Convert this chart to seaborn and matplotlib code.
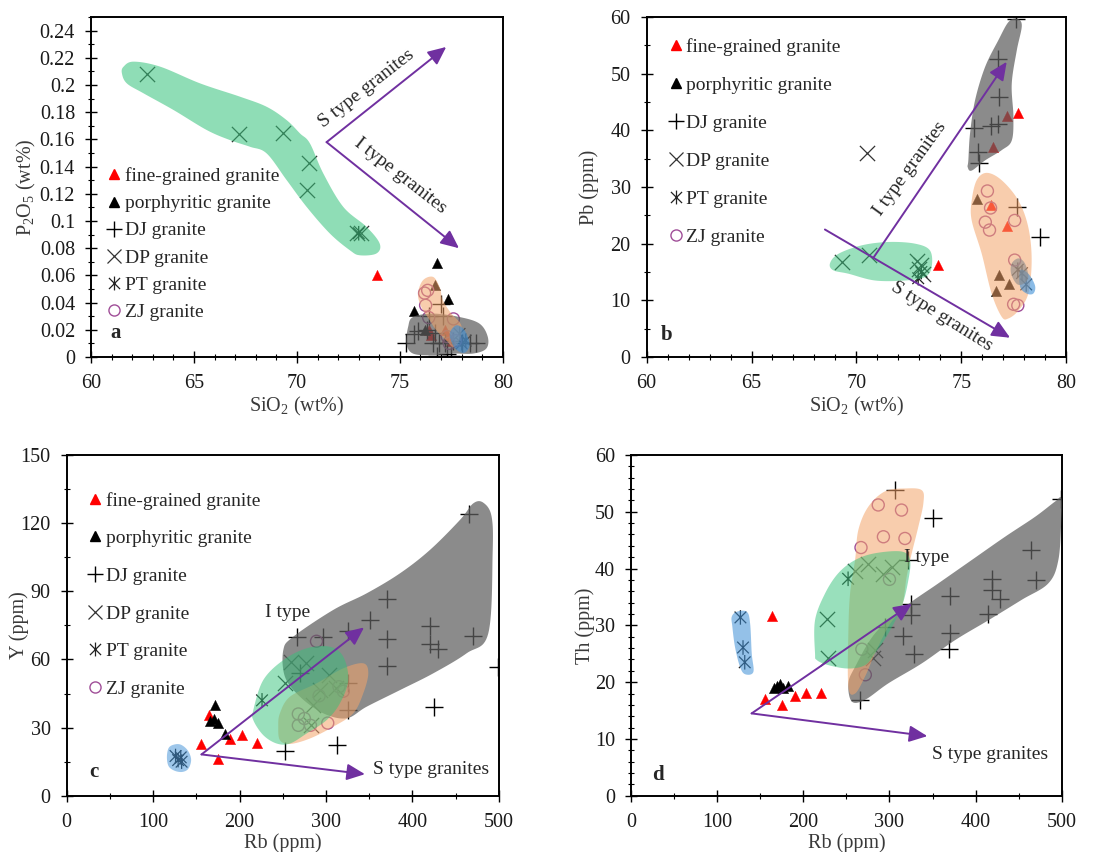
import numpy as np
import matplotlib
matplotlib.use('Agg')
import matplotlib.pyplot as plt
import seaborn as sns
from matplotlib.path import Path
from matplotlib.patches import Polygon
from matplotlib.lines import Line2D
from matplotlib.ticker import MultipleLocator, FuncFormatter

sns.set_theme(style='ticks')
plt.rcParams['font.family'] = ['Liberation Serif', 'DejaVu Serif']
plt.rcParams['mathtext.fontset'] = 'custom'
plt.rcParams['mathtext.rm'] = 'Liberation Serif'
plt.rcParams['mathtext.it'] = 'Liberation Serif:italic'

# ---------------- data : panel a (SiO2 vs P2O5) ----------------
fine_a_x = [73.9, 76.4, 76.5, 77.2, 77.3, 77.5]
fine_a_y = [0.060, 0.020, 0.016, 0.020, 0.015, 0.012]
por_a_x = [76.8, 76.7, 77.35, 75.7, 76.2]
por_a_y = [0.069, 0.053, 0.043, 0.034, 0.020]
dj_a_x = [75.3, 75.7, 75.9, 76.3, 76.4, 76.6, 76.7, 76.8, 76.9, 77.0, 77.1, 77.2, 77.3, 77.5, 77.6, 78.0, 78.4, 78.7]
dj_a_y = [0.010, 0.017, 0.019, 0.020, 0.030, 0.010, 0.018, 0.001, 0.010, 0.039, 0.030, 0.010, 0.002, 0.001, 0.012, 0.010, 0.010, 0.010]
dp_a_x = [62.7, 67.2, 69.3, 70.6, 70.5, 72.9, 73.1]
dp_a_y = [0.208, 0.164, 0.165, 0.143, 0.123, 0.091, 0.091]
pt_a_x = [73.0, 77.9, 78.0, 78.2]
pt_a_y = [0.091, 0.017, 0.010, 0.012]
zj_a_x = [76.2, 76.35, 76.25, 76.4, 77.6, 77.3, 77.7, 77.4]
zj_a_y = [0.047, 0.049, 0.038, 0.029, 0.028, 0.015, 0.012, 0.010]

# field outlines (data units)
green_a_x = [61.58, 62.07, 63.36, 65.30, 67.24, 68.53, 69.50, 70.15, 70.63, 71.28, 72.25, 73.38, 74.02, 73.86, 73.05, 72.57, 71.60, 70.47, 69.50, 68.53, 67.72, 66.75, 65.62, 64.01, 62.55, 61.74, 61.50]
green_a_y = [0.2135, 0.2172, 0.2135, 0.2012, 0.1914, 0.1840, 0.1742, 0.1644, 0.1571, 0.1350, 0.1104, 0.0957, 0.0834, 0.0761, 0.0748, 0.0785, 0.0908, 0.1104, 0.1301, 0.1497, 0.1546, 0.1595, 0.1669, 0.1816, 0.1939, 0.2012, 0.2086]
gray_a_x = [75.40, 75.64, 76.61, 77.90, 78.87, 79.27, 79.19, 78.55, 77.58, 76.61, 75.64, 75.32]
gray_a_y = [0.0221, 0.0294, 0.0319, 0.0294, 0.0245, 0.0147, 0.0061, 0.0025, 0.0025, 0.0012, 0.0025, 0.0098]
orange_a_x = [75.88, 76.12, 76.61, 76.93, 77.09, 77.50, 77.98, 77.90, 77.58, 77.25, 76.77, 76.45, 76.04]
orange_a_y = [0.0466, 0.0564, 0.0589, 0.0515, 0.0417, 0.0319, 0.0233, 0.0123, 0.0074, 0.0123, 0.0196, 0.0270, 0.0368]
blue_a_x = [77.42, 77.74, 78.14, 78.38, 78.22, 77.90, 77.58]
blue_a_y = [0.0172, 0.0233, 0.0196, 0.0098, 0.0037, 0.0037, 0.0086]

# ---------------- data : panel b (SiO2 vs Pb) ----------------
fine_b_x = [73.9, 76.4, 76.5, 77.2, 77.7, 77.2]
fine_b_y = [16.2, 26.8, 37.1, 42.5, 43.1, 23.2]
por_b_x = [75.75, 76.8, 76.65, 77.3]
por_b_y = [27.8, 14.4, 11.6, 12.9]
dj_b_x = [77.6, 76.75, 76.8, 75.6, 76.4, 76.75, 75.8, 75.85, 77.65, 78.75]
dj_b_y = [59.6, 52.6, 45.8, 40.4, 40.8, 41.2, 36.1, 34.2, 26.5, 21.2]
dp_b_x = [69.3, 70.5, 70.6, 72.9, 73.0, 73.1, 73.2]
dp_b_y = [16.8, 36.0, 18.0, 17.0, 15.5, 16.2, 14.6]
pt_b_x = [72.95, 73.1, 77.7, 77.9, 78.1]
pt_b_y = [13.9, 15.0, 15.4, 14.8, 12.8]
zj_b_x = [76.25, 76.4, 76.15, 76.35, 77.55, 77.55, 77.5, 77.7]
zj_b_y = [29.3, 26.3, 23.8, 22.4, 24.1, 17.1, 9.3, 9.1]

gray_b_x = [75.34, 75.42, 75.66, 76.14, 76.77, 77.25, 77.65, 77.89, 77.65, 77.41, 77.49, 77.41, 76.93, 76.14, 75.50, 75.31]
gray_b_y = [34.7, 39.4, 45.3, 51.2, 55.9, 59.1, 59.7, 58.5, 54.1, 48.2, 42.4, 38.2, 36.5, 34.7, 32.9, 33.5]
orange_b_x = [75.50, 75.74, 76.22, 76.93, 77.73, 78.20, 78.36, 78.20, 77.73, 77.25, 76.93, 76.45, 75.98, 75.50]
orange_b_y = [27.6, 31.2, 32.5, 31.2, 27.6, 22.9, 17.1, 11.2, 8.2, 6.8, 7.1, 11.2, 18.2, 24.1]
green_b_x = [68.74, 69.14, 70.25, 71.53, 72.80, 73.51, 73.59, 73.27, 72.32, 70.89, 69.62, 68.90]
green_b_y = [16.5, 18.2, 19.7, 20.3, 20.0, 18.8, 15.9, 14.1, 13.5, 13.5, 14.7, 15.3]
gray2_b_x = [77.41, 77.73, 78.04, 78.20, 77.96, 77.65, 77.38]
gray2_b_y = [16.5, 17.4, 16.5, 14.1, 12.9, 12.9, 14.7]
blue_b_x = [77.81, 78.20, 78.52, 78.44, 78.12, 77.81]
blue_b_y = [15.3, 14.7, 12.6, 11.2, 11.2, 12.4]

# ---------------- data : panel c (Rb vs Y) ----------------
fine_c_x = [156, 165, 175, 189, 203, 220]
fine_c_y = [23, 35.5, 16, 25, 26.7, 23.3]
por_c_x = [172, 166, 170, 175, 183]
por_c_y = [40, 33, 34, 32, 27]
dj_c_x = [465, 371, 351, 326, 267, 296, 371, 420, 420, 430, 470, 371, 499, 326, 326, 252, 313, 425, 270]
dj_c_y = [124, 86.6, 77.4, 72.7, 69.7, 69.7, 68.9, 74.9, 66.8, 64.4, 70.3, 57.3, 56.8, 49.5, 37.7, 19.7, 22.3, 38.9, 54]
dp_c_x = [259, 277, 252, 303, 293, 312, 285, 283]
dp_c_y = [59, 58.3, 49.5, 53.1, 46.5, 47.3, 39.9, 31.1]
pt_c_x = [126, 129, 132, 133, 226]
pt_c_y = [17.5, 15.7, 16.9, 15.0, 42]
zj_c_x = [289, 268, 268, 275, 282, 302, 315, 320, 292]
zj_c_y = [68, 36, 31, 34, 31, 32, 48, 46, 44]

gray_c_x = [250.6, 262.1, 308.4, 347.0, 385.5, 420.2, 454.9, 470.3, 481.9, 491.5, 492.7, 487.7, 462.6, 424.1, 385.5, 347.0, 323.8, 296.8, 269.9, 252.5]
gray_c_y = [64.1, 70.0, 81.8, 89.1, 97.9, 108.2, 121.4, 128.7, 129.0, 122.9, 106.7, 71.5, 62.7, 53.9, 46.5, 39.2, 34.1, 36.3, 43.6, 52.4]
green_c_x = [215.9, 227.4, 250.6, 277.6, 304.5, 320.0, 325.7, 316.1, 300.7, 277.6, 258.3, 242.9, 227.4, 215.9]
green_c_y = [37.7, 50.9, 59.7, 64.9, 65.6, 61.2, 50.9, 40.7, 33.3, 27.4, 23.0, 23.0, 26.7, 33.3]
orange_c_x = [246.7, 258.3, 289.1, 320.0, 343.1, 348.9, 343.1, 331.5, 308.4, 281.4, 258.3, 246.7, 244.8]
orange_c_y = [36.3, 43.6, 49.5, 56.1, 58.3, 53.9, 45.1, 36.3, 30.4, 25.2, 22.8, 24.5, 30.4]
blue_c_x = [116, 118, 124, 132, 140, 144, 141, 134, 125, 118]
blue_c_y = [17, 21, 22.5, 22.5, 20, 16, 12, 10.5, 11, 13]

# ---------------- data : panel d (Rb vs Th) ----------------
fine_d_x = [156, 164, 175, 190, 203, 220]
fine_d_y = [17.1, 31.6, 15.9, 17.6, 18.1, 18.1]
por_d_x = [166, 170, 173, 176, 182]
por_d_y = [19.0, 19.3, 19.7, 19.0, 19.3]
dj_d_x = [307, 350, 499, 464, 470, 419, 419, 428, 414, 370, 370, 369, 325, 325, 316, 328, 322, 295, 266]
dj_d_y = [53.8, 48.9, 52.3, 43.3, 38.0, 38.1, 36.2, 34.6, 32.0, 35.2, 28.6, 25.8, 33.8, 31.8, 28.1, 24.9, 41.5, 29.8, 16.9]
dp_d_x = [227, 229, 260, 275, 293, 303, 283, 281]
dp_d_y = [31.1, 24.2, 39.5, 40.8, 39.0, 40.3, 25.7, 24.2]
pt_d_x = [127, 130, 132, 252]
pt_d_y = [31.4, 26.1, 23.5, 38.2]
zj_d_x = [287, 314, 293, 318, 267, 300, 268, 272]
zj_d_y = [51.2, 50.3, 45.6, 45.3, 43.7, 38.1, 25.8, 21.3]

gray_d_x = [252.3, 260.1, 283.3, 318.1, 356.8, 395.5, 434.2, 469.0, 492.3, 499.5, 499.5, 496.1, 484.5, 453.6, 414.9, 376.2, 337.5, 298.8, 271.7, 256.2]
gray_d_y = [19.8, 22.7, 28.6, 33.3, 37.4, 41.5, 45.6, 49.1, 51.8, 52.4, 48.6, 41.5, 37.4, 34.5, 30.9, 27.4, 23.3, 19.8, 16.9, 16.6]
orange_d_x = [260.1, 263.9, 275.5, 294.9, 318.1, 337.5, 339.4, 333.6, 325.9, 320.0, 314.2, 298.8, 283.3, 271.7, 260.1, 252.3, 252.3, 254.3]
orange_d_y = [41.5, 46.8, 50.9, 53.6, 54.1, 53.8, 51.5, 47.4, 42.7, 38.6, 33.3, 29.8, 25.1, 21.0, 18.0, 19.2, 28.6, 35.6]
green_d_x = [213.6, 213.6, 225.2, 240.7, 260.1, 283.3, 314.2, 323.9, 322.0, 314.2, 298.8, 283.3, 271.7, 252.3, 229.1, 215.6]
green_d_y = [25.1, 30.9, 35.6, 39.2, 41.5, 42.7, 43.0, 41.5, 38.0, 33.3, 28.6, 25.1, 23.0, 22.4, 23.0, 23.9]
blue_d_x = [116.9, 122.7, 134.3, 138.2, 140.1, 142.0, 132.4, 126.5, 120.7, 117.6]
blue_d_y = [31.5, 32.4, 32.4, 30.4, 25.1, 21.8, 21.4, 22.7, 26.2, 29.8]

legend_labels = ['fine-grained granite', 'porphyritic granite', 'DJ granite',
                 'DP granite', 'PT granite', 'ZJ granite']

# ---------------- styles ----------------
PURPLE = '#7030A0'
ZJC = '#A04E98'
GREEN = '#34C27A'
GRAY = '#5f5f5f'
ORANGE = '#F4A46A'
BLUE = '#3D8FD6'
ASTER = Path([(-1, -1), (1, 1), (-1, 1), (1, -1), (0, -1.25), (0, 1.25)],
             [Path.MOVETO, Path.LINETO, Path.MOVETO, Path.LINETO, Path.MOVETO, Path.LINETO])


def smooth(xs, ys, n=14):
    """closed Catmull-Rom curve through the outline vertices"""
    P = np.column_stack([xs, ys]).astype(float)
    N = len(P)
    out = []
    ts = np.linspace(0, 1, n, endpoint=False)
    for i in range(N):
        p0, p1, p2, p3 = P[i - 1], P[i], P[(i + 1) % N], P[(i + 2) % N]
        for t in ts:
            t2, t3 = t * t, t * t * t
            out.append(0.5 * (2 * p1 + (-p0 + p2) * t
                              + (2 * p0 - 5 * p1 + 4 * p2 - p3) * t2
                              + (-p0 + 3 * p1 - 3 * p2 + p3) * t3))
    return np.array(out)


def field(ax, xs, ys, color, alpha, z=3):
    ax.add_patch(Polygon(smooth(xs, ys), closed=True, facecolor=color,
                         edgecolor='none', alpha=alpha, zorder=z))


def points(ax, fx, fy, px, py, jx, jy, dx, dy, tx, ty, zx, zy):
    sns.scatterplot(x=fx, y=fy, marker='^', color='#FF0000', edgecolor='#FF0000',
                    s=55, linewidth=0.3, ax=ax, zorder=2)
    sns.scatterplot(x=px, y=py, marker='^', color='black', edgecolor='black',
                    s=55, linewidth=0.3, ax=ax, zorder=2)
    sns.scatterplot(x=jx, y=jy, marker='+', color='black', s=150,
                    linewidth=1.0, ax=ax, zorder=2)
    sns.scatterplot(x=dx, y=dy, marker='x', color='#333333', s=120,
                    linewidth=0.9, ax=ax, zorder=2)
    sns.scatterplot(x=tx, y=ty, marker=ASTER, facecolor='none', edgecolor='#222222',
                    s=110, linewidth=0.9, ax=ax, zorder=2)
    sns.scatterplot(x=zx, y=zy, marker='o', facecolor='none', edgecolor=ZJC,
                    s=75, linewidth=1.0, ax=ax, zorder=2)


def arrow(ax, start, end):
    ax.annotate('', xy=end, xytext=start,
                arrowprops=dict(arrowstyle='-|>,head_length=0.55,head_width=0.25',
                                color=PURPLE, lw=1.4, mutation_scale=20,
                                shrinkA=0, shrinkB=0), zorder=6)


def legend(ax, anchor, spacing):
    handles = [
        Line2D([], [], marker='^', color='#FF0000', ls='None', ms=7),
        Line2D([], [], marker='^', color='black', ls='None', ms=7),
        Line2D([], [], marker='+', color='black', ls='None', ms=11, mew=1.0),
        Line2D([], [], marker='x', color='#333333', ls='None', ms=10, mew=0.9),
        Line2D([], [], marker=ASTER, color='#222222', mfc='none', ls='None', ms=10, mew=0.9),
        Line2D([], [], marker='o', color=ZJC, mfc='none', ls='None', ms=8, mew=1.0),
    ]
    ax.legend(handles, legend_labels, loc='upper left', bbox_to_anchor=anchor,
              frameon=False, fontsize=14, handlelength=0.7, handletextpad=0.2,
              labelspacing=spacing, borderpad=0, borderaxespad=0)


def style(ax, xlim, ylim, xmaj, xmin, ymaj, ymin, xlabel, ylabel, ylpad, fmt=None):
    ax.set_xlim(*xlim)
    ax.set_ylim(*ylim)
    ax.xaxis.set_major_locator(MultipleLocator(xmaj))
    ax.xaxis.set_minor_locator(MultipleLocator(xmin))
    ax.yaxis.set_major_locator(MultipleLocator(ymaj))
    ax.yaxis.set_minor_locator(MultipleLocator(ymin))
    if fmt is not None:
        ax.yaxis.set_major_formatter(fmt)
    ax.tick_params(which='major', direction='inout', length=9, width=1.0,
                   labelsize=14.5, labelcolor='#1a1a1a', color='black')
    ax.tick_params(axis='x', which='major', pad=8)
    ax.tick_params(axis='y', which='major', pad=7)
    ax.tick_params(which='minor', direction='inout', length=5, width=0.8, color='black')
    for sp in ax.spines.values():
        sp.set_color('black')
        sp.set_linewidth(1.4)
    ax.set_xlabel(xlabel, fontsize=14.5, color='#3a3a3a', labelpad=1)
    ax.set_ylabel(ylabel, fontsize=14.5, color='#3a3a3a', labelpad=ylpad)


fig = plt.figure(figsize=(11.1, 8.52), dpi=100)
axa = fig.add_axes([0.082, 0.581, 0.371, 0.399])
axb = fig.add_axes([0.5826, 0.581, 0.3778, 0.399])
axc = fig.add_axes([0.060, 0.066, 0.3895, 0.400])
axd = fig.add_axes([0.5685, 0.066, 0.388, 0.400])

# ---- panel a ----
points(axa, fine_a_x, fine_a_y, por_a_x, por_a_y, dj_a_x, dj_a_y,
       dp_a_x, dp_a_y, pt_a_x, pt_a_y, zj_a_x, zj_a_y)
field(axa, gray_a_x, gray_a_y, GRAY, 0.72)
field(axa, orange_a_x, orange_a_y, ORANGE, 0.55)
field(axa, blue_a_x, blue_a_y, BLUE, 0.6)
field(axa, green_a_x, green_a_y, GREEN, 0.55)
arrow(axa, (71.44, 0.158), (77.25, 0.228))
arrow(axa, (71.44, 0.158), (77.87, 0.080))
axa.text(73.4, 0.1975, 'S type granites', rotation=38, rotation_mode='anchor',
         ha='center', va='center', fontsize=14, zorder=7)
axa.text(75.0, 0.133, 'I type granites', rotation=-38, rotation_mode='anchor',
         ha='center', va='center', fontsize=14, zorder=7)
fmt_a = FuncFormatter(lambda v, p: '0' if abs(v) < 1e-9 else '%g' % round(v, 3))
style(axa, (60, 80), (0, 0.25), 5, 1, 0.02, 0.01, 'SiO$_{2}$ (wt%)', 'P$_{2}$O$_{5}$ (wt%)', 1, fmt_a)
legend(axa, (0.039, 0.558), 0.49)
axa.text(0.06, 0.07, 'a', transform=axa.transAxes, fontsize=15, fontweight='bold',
         ha='center', va='center')

# ---- panel b ----
points(axb, fine_b_x, fine_b_y, por_b_x, por_b_y, dj_b_x, dj_b_y,
       dp_b_x, dp_b_y, pt_b_x, pt_b_y, zj_b_x, zj_b_y)
field(axb, gray_b_x, gray_b_y, GRAY, 0.72)
field(axb, orange_b_x, orange_b_y, ORANGE, 0.55)
field(axb, blue_b_x, blue_b_y, BLUE, 0.6)
field(axb, gray2_b_x, gray2_b_y, '#8a8a8a', 0.6)
field(axb, green_b_x, green_b_y, GREEN, 0.5)
arrow(axb, (70.81, 17.5), (77.17, 52.1))
arrow(axb, (68.5, 22.5), (77.33, 3.4))
axb.text(72.56, 33.2, 'I type granites', rotation=54, rotation_mode='anchor',
         ha='center', va='center', fontsize=14, zorder=7)
axb.text(74.07, 7.06, 'S type granites', rotation=-32, rotation_mode='anchor',
         ha='center', va='center', fontsize=14, zorder=7)
style(axb, (60, 80), (0, 60), 5, 1, 10, 5, 'SiO$_{2}$ (wt%)', 'Pb (ppm)', 8)
legend(axb, (0.053, 0.938), 1.05)
axb.text(0.048, 0.064, 'b', transform=axb.transAxes, fontsize=15, fontweight='bold',
         ha='center', va='center')

# ---- panel c ----
points(axc, fine_c_x, fine_c_y, por_c_x, por_c_y, dj_c_x, dj_c_y,
       dp_c_x, dp_c_y, pt_c_x, pt_c_y, zj_c_x, zj_c_y)
field(axc, gray_c_x, gray_c_y, GRAY, 0.72)
field(axc, orange_c_x, orange_c_y, ORANGE, 0.55)
field(axc, green_c_x, green_c_y, GREEN, 0.5)
field(axc, blue_c_x, blue_c_y, BLUE, 0.5)
arrow(axc, (156, 18.2), (344, 74.1))
arrow(axc, (156, 18.2), (345, 9.5))
axc.text(256, 80.6, 'I type', ha='center', va='center', fontsize=14, zorder=7)
axc.text(422, 11.6, 'S type granites', ha='center', va='center', fontsize=14, zorder=7)
style(axc, (0, 500), (0, 150), 100, 50, 30, 15, 'Rb (ppm)', 'Y (ppm)', -6)
legend(axc, (0.051, 0.892), 1.03)
axc.text(0.062, 0.07, 'c', transform=axc.transAxes, fontsize=15, fontweight='bold',
         ha='center', va='center')

# ---- panel d ----
points(axd, fine_d_x, fine_d_y, por_d_x, por_d_y, dj_d_x, dj_d_y,
       dp_d_x, dp_d_y, pt_d_x, pt_d_y, zj_d_x, zj_d_y)
field(axd, gray_d_x, gray_d_y, GRAY, 0.72)
field(axd, orange_d_x, orange_d_y, ORANGE, 0.55)
field(axd, green_d_x, green_d_y, GREEN, 0.5)
field(axd, blue_d_x, blue_d_y, BLUE, 0.55)
arrow(axd, (140, 14.5), (326, 33.8))
arrow(axd, (140, 14.5), (344, 10.5))
axd.text(343, 42.0, 'I type', ha='center', va='center', fontsize=14, zorder=7)
axd.text(417, 7.2, 'S type granites', ha='center', va='center', fontsize=14, zorder=7)
style(axd, (0, 500), (0, 60), 100, 50, 10, 2, 'Rb (ppm)', 'Th (ppm)', 0)
axd.text(0.063, 0.061, 'd', transform=axd.transAxes, fontsize=15, fontweight='bold',
         ha='center', va='center')

fig.savefig('out.png', dpi=100)
